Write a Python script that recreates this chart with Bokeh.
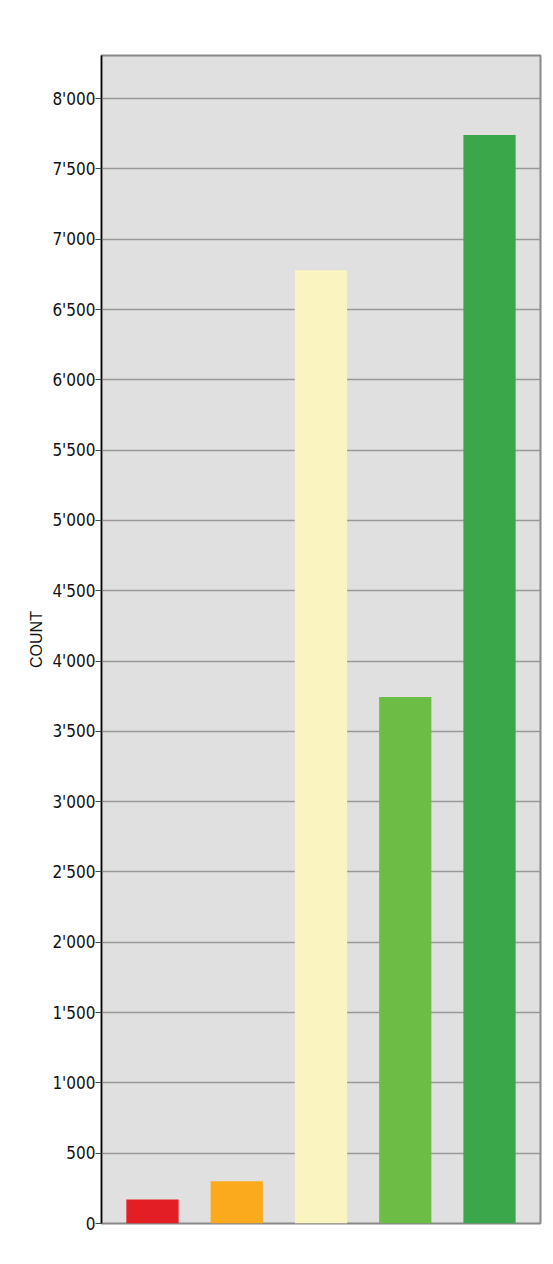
from bokeh.plotting import figure
from bokeh.models import ColumnDataSource, Range1d, FactorRange, SingleIntervalTicker, CustomJSTickFormatter
from bokeh.embed import file_html
from bokeh.resources import INLINE

# Data
categories = ["1", "2", "3", "4", "5"]
counts = [170, 300, 6780, 3745, 7742]
colors = ["#e31e24", "#fba91d", "#faf5c0", "#6cbd45", "#3aa84a"]

source = ColumnDataSource(dict(cat=categories, count=counts, color=colors))

p = figure(
    width=545, height=1256,
    x_range=FactorRange(*categories, range_padding=0.042),
    y_range=Range1d(0, 8307),
    output_backend="svg", toolbar_location=None,
    min_border_left=101, min_border_right=5, min_border_top=55, min_border_bottom=33,
    background_fill_color="#e0e0e0", border_fill_color="white",
)

p.vbar(x="cat", top="count", width=0.62, color="color", source=source, line_color=None)

p.xaxis.visible = False
p.xgrid.visible = False

p.ygrid.grid_line_color = "#999999"
p.ygrid.grid_line_width = 1.5

p.outline_line_color = "#888888"
p.outline_line_width = 2

ya = p.yaxis[0]
ya.ticker = SingleIntervalTicker(interval=500)
ya.formatter = CustomJSTickFormatter(code="return tick.toFixed(0).replace(/\\B(?=(\\d{3})+(?!\\d))/g, \"'\");")
ya.axis_line_color = "black"
ya.axis_line_width = 1.5
ya.major_tick_out = 6
ya.major_tick_in = 0
ya.minor_tick_out = 0
ya.minor_tick_in = 0
ya.major_tick_line_color = "#444444"
ya.major_label_standoff = 0
ya.major_label_text_font = "DejaVu Sans Condensed"
ya.major_label_text_font_size = "17px"
ya.major_label_text_color = "#111111"
ya.axis_label = "COUNT"
ya.axis_label_text_font = "Liberation Sans"
ya.axis_label_text_font_style = "normal"
ya.axis_label_text_font_size = "16px"
ya.axis_label_text_color = "#111111"
ya.axis_label_standoff = 4

open("out.html", "w").write(file_html(p, INLINE))
